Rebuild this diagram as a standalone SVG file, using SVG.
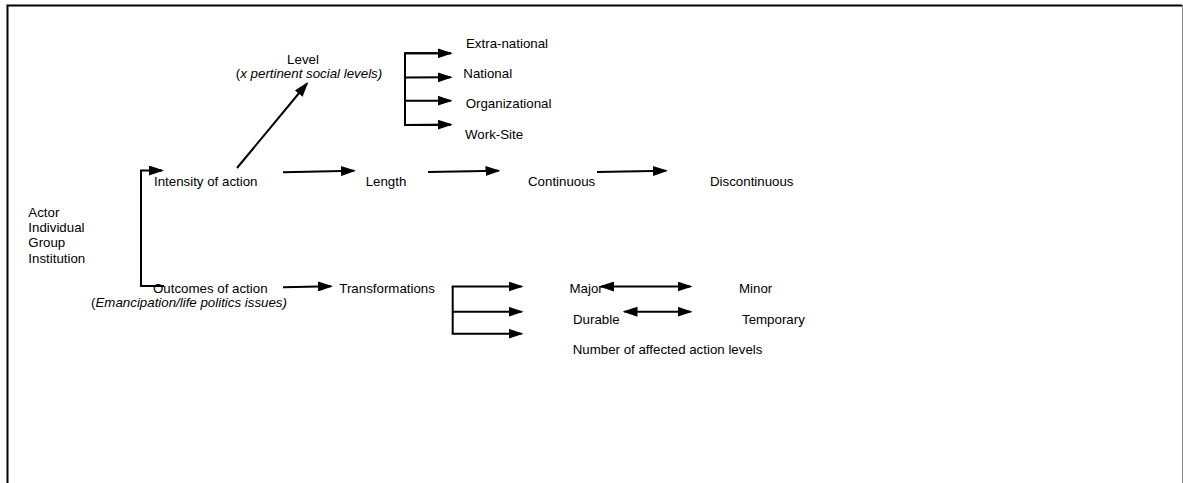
<svg xmlns="http://www.w3.org/2000/svg" width="1183" height="483" viewBox="0 0 1183 483">
<style>
text{font-family:"Liberation Sans",Arial,sans-serif;font-size:13.3px;fill:#000}
.it{font-style:italic}
.c{text-anchor:middle}
.ln{fill:none;stroke:#000;stroke-width:2}
.ar{marker-end:url(#ah)}
.db{marker-end:url(#ah);marker-start:url(#ah)}
</style>
<defs>
<marker id="ah" markerUnits="userSpaceOnUse" markerWidth="15" markerHeight="10" refX="13" refY="5" orient="auto-start-reverse" viewBox="0 0 15 10">
<path d="M0,0 L15,5 L0,10 z" fill="#000"/>
</marker>
</defs>
<rect width="1183" height="483" fill="#fff"/>
<g id="frame">
<path d="M7.5,483 V5.5 H1182" fill="none" stroke="#000" stroke-width="2"/>
<line x1="1182.5" y1="5" x2="1182.5" y2="483" stroke="#888" stroke-width="1"/>
</g>
<g id="connectors">
<path class="ln ar" d="M164,286 H141 V170.5 H162"/>
<line class="ln ar" x1="237" y1="168" x2="307" y2="83.5"/>
<line class="ln ar" x1="283" y1="172.3" x2="354" y2="170.8"/>
<line class="ln ar" x1="428" y1="172" x2="498.5" y2="170.8"/>
<line class="ln ar" x1="597" y1="172" x2="666" y2="170.8"/>
<path class="ln" d="M451,53.3 H405 V125 H451"/>
<line class="ln ar" x1="405" y1="53.3" x2="450.7" y2="53.3"/>
<line class="ln ar" x1="405" y1="77.5" x2="450.7" y2="77.3"/>
<line class="ln ar" x1="405" y1="100.7" x2="450.7" y2="100.7"/>
<line class="ln ar" x1="405" y1="125" x2="450.7" y2="124.5"/>
<line class="ln ar" x1="283" y1="287.3" x2="331" y2="286.2"/>
<path class="ln" d="M452.7,286.5 V333.7"/>
<line class="ln ar" x1="451.7" y1="286.5" x2="521.5" y2="286.5"/>
<line class="ln ar" x1="452.7" y1="311.7" x2="521.5" y2="311.7"/>
<line class="ln ar" x1="451.7" y1="333.7" x2="521.5" y2="333.7"/>
<line class="ln db" x1="601" y1="286.5" x2="690.5" y2="286.5"/>
<line class="ln db" x1="624.5" y1="311.7" x2="690.5" y2="311.7"/>
</g>
<g id="actor">
<text x="28.3" y="216.7">Actor</text>
<text x="28.3" y="232">Individual</text>
<text x="28.3" y="247.3">Group</text>
<text x="28.3" y="262.6">Institution</text>
</g>
<g id="intensity"><text x="154" y="186">Intensity of action</text></g>
<g id="outcomes">
<text x="153" y="293">Outcomes of action</text>
<text x="189" y="306.7" class="c">(<tspan class="it">Emancipation/life politics issues)</tspan></text>
</g>
<g id="level">
<text x="303" y="63.5" class="c">Level</text>
<text x="309" y="77.8" class="c">(<tspan class="it">x pertinent social levels)</tspan></text>
</g>
<g id="extra-national"><text x="466" y="47.5">Extra-national</text></g>
<g id="national"><text x="463.3" y="77.5">National</text></g>
<g id="organizational"><text x="465.7" y="108.3">Organizational</text></g>
<g id="work-site"><text x="465" y="139.3">Work-Site</text></g>
<g id="length"><text x="365.7" y="186">Length</text></g>
<g id="continuous"><text x="528" y="186">Continuous</text></g>
<g id="discontinuous"><text x="710" y="186">Discontinuous</text></g>
<g id="transformations"><text x="339.3" y="293">Transformations</text></g>
<g id="major"><text x="569.5" y="292.5">Major</text></g>
<g id="minor"><text x="739" y="292.5">Minor</text></g>
<g id="durable"><text x="573" y="324.3">Durable</text></g>
<g id="temporary"><text x="742" y="324.3">Temporary</text></g>
<g id="affected"><text x="572.7" y="354">Number of affected action levels</text></g>
</svg>
